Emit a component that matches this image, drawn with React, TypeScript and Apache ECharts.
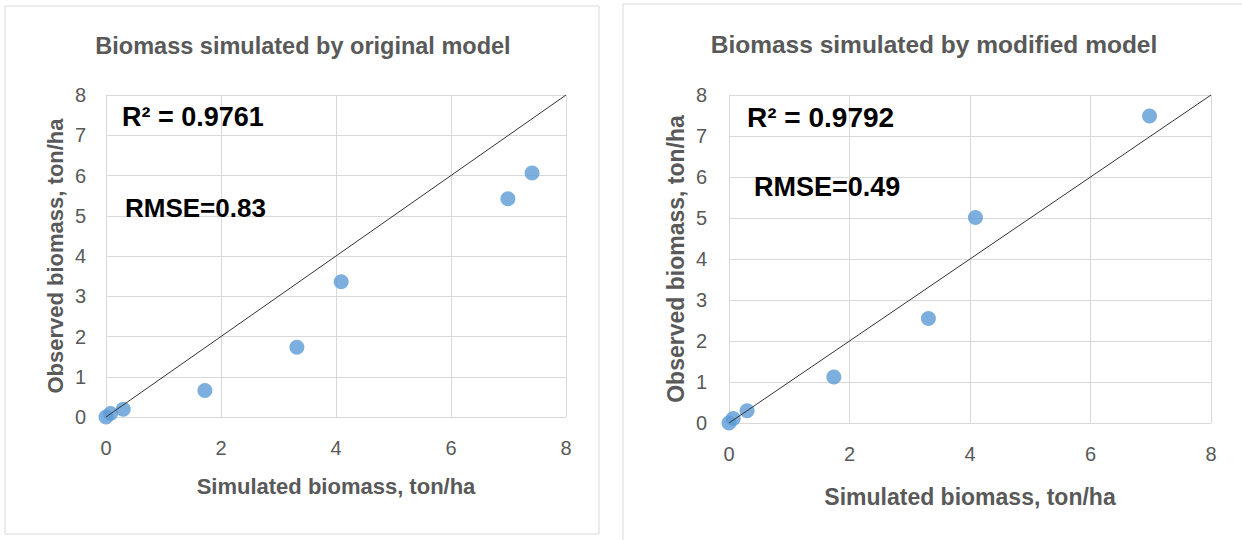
import React, { useEffect, useRef } from "react";
import * as echarts from "echarts";

const titles = ["Biomass simulated by original model", "Biomass simulated by modified model"];
const xAxisName = "Simulated biomass, ton/ha";
const yAxisName = "Observed biomass, ton/ha";
const r2Labels = ["R² = 0.9761", "R² = 0.9792"];
const rmseLabels = ["RMSE=0.83", "RMSE=0.49"];

const originalSim = [0, 0.08, 0.3, 1.72, 3.32, 4.09, 6.99, 7.41];
const originalObs = [0, 0.09, 0.19, 0.66, 1.73, 3.36, 5.42, 6.06];
const modifiedSim = [0, 0.07, 0.3, 1.74, 3.31, 4.09, 6.98];
const modifiedObs = [0, 0.11, 0.3, 1.12, 2.55, 5.01, 7.49];
const oneToOne = [[0, 0], [8, 8]];

const GREY = "#595959";
const GRID = "#d9d9d9";
const FONT = "'Liberation Sans', Arial, sans-serif";

export default function App() {
  const ref = useRef<HTMLDivElement>(null);
  useEffect(() => {
    document.body.style.margin = "0";
    const chart = echarts.init(ref.current!, null, { renderer: "svg" });
    const grids = [
      { left: 106, top: 95, width: 460, height: 322 },
      { left: 729, top: 95, width: 482, height: 328 },
    ];
    const mkX = (i: number, gap: number, margin: number, nameSize: number, tickSize: number) => ({
      type: "value",
      gridIndex: i,
      min: 0,
      max: 8,
      interval: 2,
      name: xAxisName,
      nameLocation: "middle",
      nameGap: gap,
      nameTextStyle: { color: GREY, fontSize: nameSize, fontWeight: "bold", fontFamily: FONT },
      axisLine: { show: true, lineStyle: { color: GRID } },
      axisTick: { show: false },
      axisLabel: { color: GREY, fontSize: tickSize, fontFamily: FONT, margin },
      splitLine: { show: true, lineStyle: { color: GRID, width: 1 } },
    });
    const mkY = (i: number, gap: number, margin: number, nameSize: number, tickSize: number) => ({
      type: "value",
      gridIndex: i,
      min: 0,
      max: 8,
      interval: 1,
      name: yAxisName,
      nameLocation: "middle",
      nameRotate: 90,
      nameGap: gap,
      nameTextStyle: { color: GREY, fontSize: nameSize, fontWeight: "bold", fontFamily: FONT },
      axisLine: { show: true, lineStyle: { color: GRID } },
      axisTick: { show: false },
      axisLabel: { color: GREY, fontSize: tickSize, fontFamily: FONT, margin },
      splitLine: { show: true, lineStyle: { color: GRID, width: 1 } },
    });
    const pts = (xs: number[], ys: number[]) => xs.map((x, k) => [x, ys[k]]);
    const scatter = (i: number, data: number[][]) => ({
      type: "scatter",
      xAxisIndex: i,
      yAxisIndex: i,
      data,
      symbol: "circle",
      symbolSize: 15,
      itemStyle: { color: "#5b9bd5" },
      z: 3,
    });
    const line = (i: number) => ({
      type: "line",
      xAxisIndex: i,
      yAxisIndex: i,
      data: oneToOne,
      showSymbol: false,
      symbol: "none",
      lineStyle: { color: "#333333", width: 1 },
      z: 4,
    });
    const txt = (x: number, y: number, text: string, size: number, color: string, align = "left") => ({
      type: "text",
      x,
      y,
      style: {
        text,
        fill: color,
        font: `bold ${size}px ${FONT}`,
        textAlign: align,
        textVerticalAlign: "middle",
      },
      z: 10,
    });
    chart.setOption({
      animation: false,
      backgroundColor: "#ffffff",
      grid: grids,
      xAxis: [mkX(0, 58, 21, 22, 20), mkX(1, 62, 21, 23, 20)],
      yAxis: [mkY(0, 40, 20, 22, 20), mkY(1, 42, 22, 23, 20)],
      series: [
        scatter(0, pts(originalSim, originalObs)),
        line(0),
        scatter(1, pts(modifiedSim, modifiedObs)),
        line(1),
      ],
      graphic: [
        { type: "rect", shape: { x: 5, y: 6, width: 594, height: 528 }, style: { fill: "none", stroke: GRID, lineWidth: 1 }, z: 0 },
        { type: "rect", shape: { x: 623, y: 4, width: 640, height: 560 }, style: { fill: "none", stroke: GRID, lineWidth: 1 }, z: 0 },
        txt(303, 46, titles[0], 23.5, GREY, "center"),
        txt(934, 44, titles[1], 24.5, GREY, "center"),
        txt(122, 117, r2Labels[0], 27, "#000000"),
        txt(125, 208, rmseLabels[0], 26, "#000000"),
        txt(747, 117, r2Labels[1], 28, "#000000"),
        txt(754, 187, rmseLabels[1], 27, "#000000"),
      ],
    });
    return () => chart.dispose();
  }, []);
  return <div ref={ref} style={{ position: "absolute", left: 0, top: 0, width: 1242, height: 540 }} />;
}
